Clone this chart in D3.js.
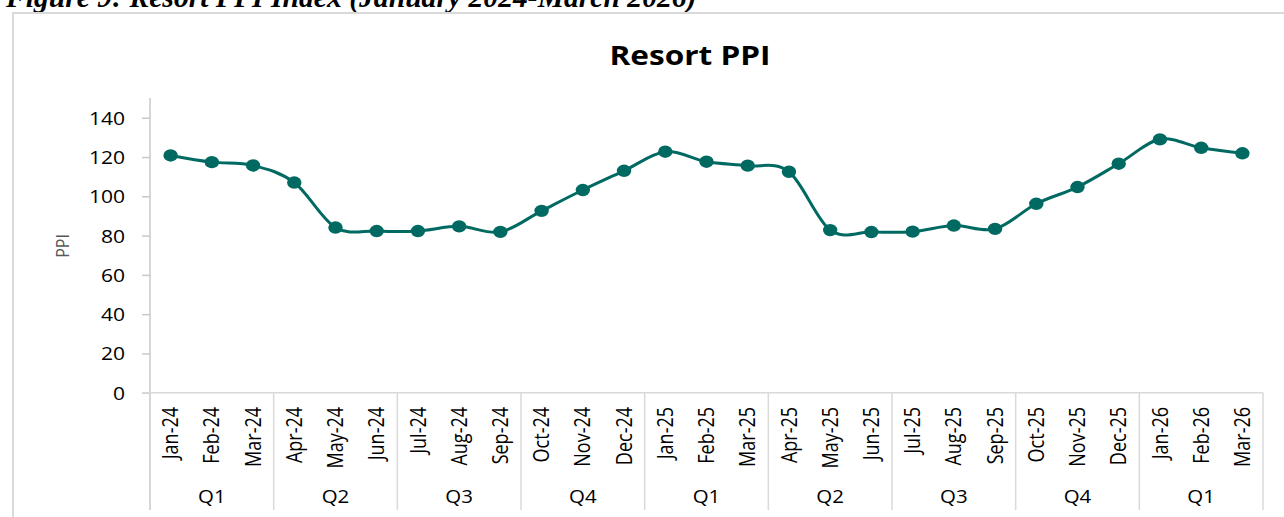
<!DOCTYPE html>
<html>
<head>
<meta charset="utf-8">
<script src="https://cdn.jsdelivr.net/npm/d3@7"></script>
<style>
  body { margin: 0; background: #fff; }
  svg { display: block; }
</style>
</head>
<body>
<div id="chart"></div>
<script>
// data
const months = ["Jan-24","Feb-24","Mar-24","Apr-24","May-24","Jun-24","Jul-24","Aug-24","Sep-24",
  "Oct-24","Nov-24","Dec-24","Jan-25","Feb-25","Mar-25","Apr-25","May-25","Jun-25","Jul-25",
  "Aug-25","Sep-25","Oct-25","Nov-25","Dec-25","Jan-26","Feb-26","Mar-26"];
const quarters = ["Q1","Q2","Q3","Q4","Q1","Q2","Q3","Q4","Q1"];
const ppi = [120.8, 117.4, 115.7, 107.0, 84.1, 82.3, 82.3, 84.7, 81.9,
  92.6, 103.2, 113.0, 122.7, 117.6, 115.6, 112.5, 82.8, 81.8, 82.0,
  85.1, 83.4, 96.2, 104.7, 116.6, 129.0, 124.7, 121.9];
const yTicks = [0, 20, 40, 60, 80, 100, 120, 140];

const W = 1284, H = 517;
const sx = 1.17; // the picture is stretched sideways a bit
const teal = "#006a62";
const grid = "#d9d9d9";

const svg = d3.select("#chart").append("svg")
  .attr("width", W).attr("height", H);

// caption above the chart box (cut off at the top)
const cap = svg.append("text")
  .attr("x", 6).attr("y", 7)
  .attr("font-family", "Liberation Serif")
  .attr("font-weight", "bold").attr("font-style", "italic")
  .attr("font-size", 22)
  .attr("fill", "#000")
  .text("Figure 9: Resort PPI Index (January 2024-March 2026)");
let len = cap.node().getComputedTextLength();
cap.attr("font-size", 22 * 691 / len);

// chart box
svg.append("rect")
  .attr("x", 13).attr("y", 13)
  .attr("width", 1300).attr("height", 600)
  .attr("fill", "none").attr("stroke", grid).attr("stroke-width", 2);

// title
svg.append("text")
  .attr("x", 690).attr("y", 65)
  .attr("text-anchor", "middle")
  .attr("font-family", "Open Sans").attr("font-weight", "bold")
  .attr("font-size", 27)
  .attr("fill", "#000")
  .attr("transform", "translate(690,0) scale(" + sx + ",1) translate(-690,0)")
  .text("Resort PPI");

// scales
const x = d3.scaleBand().domain(months).range([150, 1263]);
const y = d3.scaleLinear().domain([0, 150]).range([392.7, 98.1]);

// y axis
const yAxis = svg.append("g")
  .attr("transform", "translate(150,0)")
  .call(d3.axisLeft(y).tickValues(yTicks).tickSize(8).tickPadding(0));
yAxis.select(".domain").remove();
yAxis.selectAll(".tick line").attr("stroke", "#c8c8c8").attr("stroke-width", 1.5);
yAxis.selectAll(".tick text")
  .attr("x", -25 / sx)
  .attr("dy", "0.36em")
  .attr("transform", "scale(" + sx + ",1)")
  .attr("font-family", "Open Sans").attr("font-size", 18)
  .attr("fill", "#000");

svg.append("line")
  .attr("x1", 150).attr("x2", 150)
  .attr("y1", y(150)).attr("y2", 510)
  .attr("stroke", "#c8c8c8").attr("stroke-width", 1.5);

// horizontal base line
svg.append("line")
  .attr("x1", 142).attr("x2", x.range()[1])
  .attr("y1", y(0)).attr("y2", y(0))
  .attr("stroke", grid).attr("stroke-width", 1.5);

// quarter separators
const bounds = d3.range(1, quarters.length + 1).map(q =>
  q < quarters.length ? x(months[q * 3]) : x.range()[1]);
svg.selectAll("line.qsep").data(bounds).enter()
  .append("line")
  .attr("class", "qsep")
  .attr("x1", d => d).attr("x2", d => d)
  .attr("y1", y(0)).attr("y2", 510)
  .attr("stroke", grid).attr("stroke-width", 1.5);

// month labels
svg.selectAll("text.month").data(months).enter()
  .append("text")
  .attr("class", "month")
  .attr("transform", d => "translate(" + (x(d) + x.bandwidth() / 2) + ",407) scale(" + sx + ",1) rotate(-90)")
  .attr("text-anchor", "end")
  .attr("dy", "0.36em")
  .attr("font-family", "Open Sans").attr("font-size", 18)
  .attr("fill", "#000")
  .text(d => d);

// quarter labels
svg.selectAll("text.quarter").data(quarters).enter()
  .append("text")
  .attr("class", "quarter")
  .attr("transform", (d, i) => "translate(" + (x(months[i * 3]) + x.bandwidth() * 1.5) + ",503) scale(" + sx + ",1)")
  .attr("text-anchor", "middle")
  .attr("font-family", "Open Sans").attr("font-size", 17.5)
  .attr("fill", "#000")
  .text(d => d);

// y axis title
svg.append("text")
  .attr("transform", "translate(62,246) scale(" + sx + ",1) rotate(-90)")
  .attr("text-anchor", "middle")
  .attr("dy", "0.36em")
  .attr("font-family", "Open Sans").attr("font-size", 16)
  .attr("fill", "#595959")
  .text("PPI");

// line
const line = d3.line()
  .x((d, i) => x(months[i]) + x.bandwidth() / 2)
  .y(d => y(d))
  .curve(d3.curveCatmullRom.alpha(0));

svg.append("path")
  .datum(ppi)
  .attr("d", line)
  .attr("fill", "none")
  .attr("stroke", teal)
  .attr("stroke-width", 3);

svg.selectAll("ellipse.dot").data(ppi).enter()
  .append("ellipse")
  .attr("class", "dot")
  .attr("cx", (d, i) => x(months[i]) + x.bandwidth() / 2)
  .attr("cy", d => y(d))
  .attr("rx", 7.2).attr("ry", 6.2)
  .attr("fill", teal);
</script>
</body>
</html>
